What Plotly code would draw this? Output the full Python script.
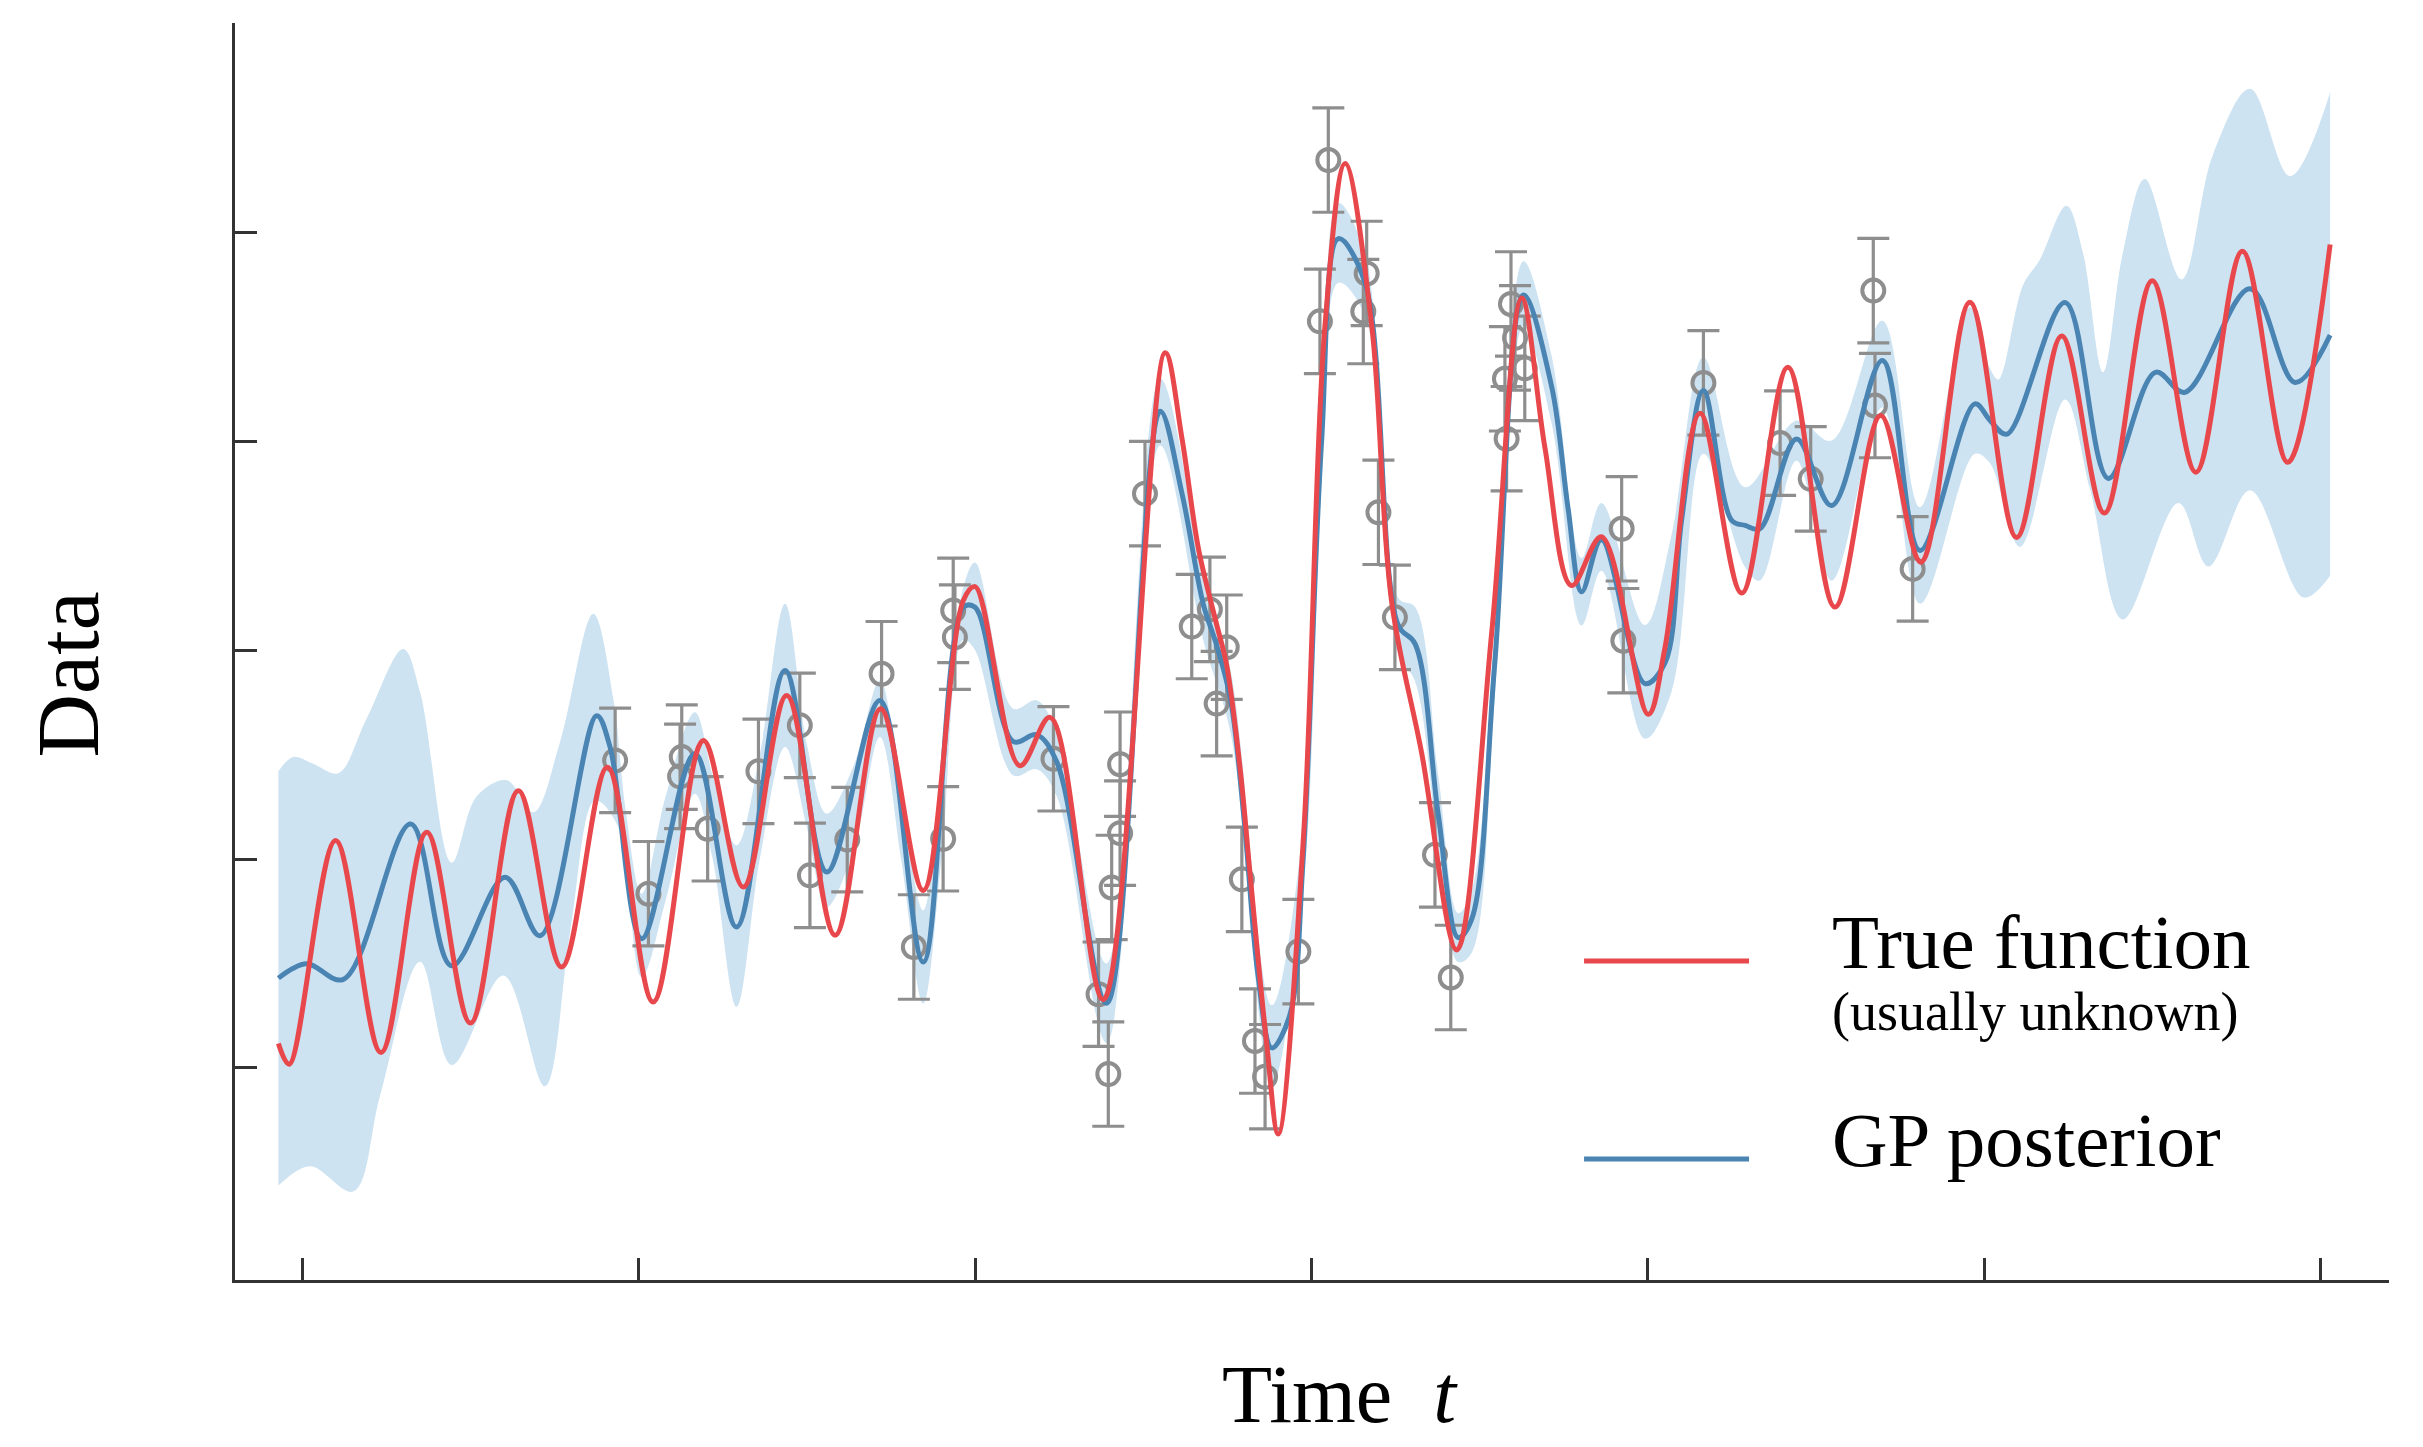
import plotly.graph_objects as go

# ---------------- data ----------------
true_t = [-0.071, -0.039, 0.099, 0.234, 0.370, 0.500, 0.642, 0.771, 0.907,
          1.043, 1.192, 1.311, 1.440, 1.584, 1.719, 1.846, 1.965,
          2.000, 2.133, 2.223, 2.381, 2.565, 2.615, 2.664, 2.718, 2.748, 2.788,
          2.817, 2.867, 2.901, 2.976, 3.040, 3.100, 3.179, 3.238, 3.328, 3.432,
          3.536, 3.625, 3.694, 3.773, 3.862, 4.001, 4.051, 4.155, 4.279, 4.416,
          4.556, 4.692, 4.812, 4.957, 5.096, 5.230, 5.357, 5.499, 5.629, 5.767,
          5.902, 6.028]
true_y = [-1.883, -1.982, -0.911, -1.926, -0.872, -1.785, -0.673, -1.517, -0.561,
          -1.684, -0.432, -1.134, -0.217, -1.365, -0.281, -1.150, 0.238,
          0.304, -0.553, -0.322, -1.673, 1.424, 1.013, 0.486, 0.123, -0.073, -0.569,
          -1.064, -1.887, -2.316, -0.899, 1.550, 2.330, 1.554, 0.235, -0.497, -1.435,
          0.089, 1.686, 0.968, 0.309, 0.543, -0.307, 0.014, 1.134, 0.273, 1.354,
          0.206, 1.123, 0.421, 1.665, 0.539, 1.504, 0.656, 1.768, 0.852, 1.909,
          0.899, 1.942]

post_t = [-0.071, 0.013, 0.122, 0.322, 0.444, 0.603, 0.707, 0.875, 0.915,
          1.009, 1.167, 1.291, 1.435, 1.559, 1.717, 1.846, 1.965,
          2.000, 2.114, 2.183, 2.243, 2.391, 2.550, 2.615, 2.678, 2.718, 2.760,
          2.801, 2.841, 2.882, 2.935, 2.975, 3.030, 3.080, 3.159, 3.258, 3.308,
          3.377, 3.436, 3.476, 3.545, 3.630, 3.714, 3.763, 3.803, 3.862, 3.991,
          4.051, 4.100, 4.165, 4.249, 4.289, 4.333, 4.442, 4.546, 4.697, 4.809,
          4.972, 5.017, 5.067, 5.240, 5.369, 5.509, 5.596, 5.790, 5.924, 6.028]
post_y = [-1.570, -1.501, -1.576, -0.832, -1.511, -1.087, -1.367, -0.314, -0.464,
          -1.381, -0.496, -1.325, -0.097, -1.062, -0.241, -1.493, 0.206,
          0.205, -0.438, -0.405, -0.536, -1.690, 1.144, 0.750, 0.222, 0.024, -0.241,
          -0.833, -1.556, -1.904, -1.750, -1.000, 1.000, 1.970, 1.759, 0.118, 0.030,
          -0.790, -1.376, -1.289, -0.057, 1.700, 1.261, 0.675, 0.279, 0.528, -0.160,
          -0.060, 0.620, 1.243, 0.621, 0.597, 0.581, 1.011, 0.692, 1.386, 0.477,
          1.179, 1.100, 1.034, 1.664, 0.822, 1.330, 1.234, 1.730, 1.281, 1.508]

band_hi_t = [-0.071, -0.027, 0.031, 0.107, 0.191, 0.300, 0.350, 0.444, 0.518,
             0.608, 0.687, 0.766, 0.865, 0.925, 0.960, 1.009, 1.080, 1.167, 1.220,
             1.291, 1.360, 1.435, 1.500, 1.559, 1.640, 1.717, 1.780, 1.846, 1.900,
             1.965, 2.000, 2.114, 2.183, 2.243, 2.391, 2.550, 2.678, 2.760, 2.882,
             2.975, 3.030, 3.080, 3.159, 3.258, 3.308, 3.377, 3.436, 3.476, 3.545,
             3.630, 3.714, 3.803, 3.862, 3.991, 4.070, 4.165, 4.289, 4.442, 4.546,
             4.697, 4.809, 4.957, 5.017, 5.042, 5.115, 5.165, 5.244, 5.293, 5.353,
             5.412, 5.477, 5.586, 5.680, 5.790, 5.909, 6.028]
band_hi_y = [-0.580, -0.511, -0.543, -0.589, -0.329, 0.006, -0.199, -1.018, -0.701,
             -0.623, -0.776, -0.441, 0.174, -0.236, -0.750, -1.166, -0.700, -0.297, -0.600,
             -0.934, -0.500, 0.222, -0.450, -0.783, -0.550, -0.145, -0.700, -1.245, -0.600,
             0.300, 0.420, -0.280, -0.240, -0.400, -1.500, 1.300, 0.380, -0.100, -1.700,
             -0.850, 1.200, 2.140, 1.900, 0.250, 0.206, -0.600, -1.259, -1.150, 0.100,
             1.862, 1.407, 0.441, 0.704, 0.120, 0.550, 1.402, 0.780, 1.099, 1.003,
             1.577, 0.684, 1.641, 1.348, 1.295, 1.747, 1.869, 2.127, 1.904, 1.330,
             1.904, 2.255, 1.774, 2.374, 2.687, 2.269, 2.669]

band_lo_t = [-0.071, 0.023, 0.152, 0.231, 0.350, 0.444, 0.598, 0.721, 0.796,
             0.870, 0.935, 1.009, 1.080, 1.167, 1.220, 1.291, 1.360, 1.435, 1.500,
             1.559, 1.640, 1.717, 1.780, 1.846, 1.900, 1.965, 2.000, 2.114, 2.183,
             2.243, 2.391, 2.550, 2.678, 2.760, 2.882, 2.975, 3.030, 3.080, 3.159,
             3.258, 3.308, 3.377, 3.436, 3.476, 3.545, 3.630, 3.714, 3.803, 3.862,
             3.991, 4.070, 4.165, 4.289, 4.333, 4.442, 4.546, 4.697, 4.809, 4.972,
             5.017, 5.106, 5.240, 5.314, 5.412, 5.577, 5.666, 5.790, 5.949, 6.028]
band_lo_y = [-2.563, -2.470, -2.591, -2.134, -1.492, -1.986, -1.557, -2.088, -1.353,
             -0.720, -0.832, -1.565, -1.200, -0.687, -1.000, -1.708, -1.000, -0.464, -0.850,
             -1.230, -0.950, -0.416, -1.000, -1.692, -1.000, 0.050, 0.000, -0.600, -0.570,
             -0.700, -1.880, 0.980, 0.050, -0.400, -2.080, -1.150, 0.800, 1.759, 1.600,
             -0.020, -0.150, -0.950, -1.493, -1.450, -0.220, 1.550, 1.085, 0.118, 0.380,
             -0.424, -0.200, 0.940, 0.397, 0.333, 0.907, 0.333, 1.163, 0.222, 0.940,
             0.895, 0.495, 1.200, 0.774, 0.147, 0.704, 0.400, 0.765, 0.252, 0.356]

obs_t = [0.930, 1.029, 1.128, 1.123, 1.205, 1.356, 1.479, 1.509, 1.620, 1.722,
         1.818, 1.905, 1.935, 1.940, 2.233, 2.431, 2.431, 2.406, 2.367, 2.396,
         2.505, 2.644, 2.698, 2.748, 2.718, 2.793, 2.832, 2.862, 2.961, 3.025,
         3.050, 3.164, 3.154, 3.199, 3.248, 3.367, 3.414, 3.593, 3.605, 3.575,
         3.634, 3.580, 3.922, 3.927, 4.165, 4.393, 4.484, 4.670, 4.675, 4.787]
obs_y = [-0.528, -1.166, -0.512, -0.604, -0.855, -0.580, -0.360, -1.078, -0.907, -0.113,
         -1.421, -0.903, 0.190, 0.062, -0.520, -0.546, -0.876, -1.136, -1.647, -2.029,
         0.749, 0.113, 0.195, 0.014, -0.256, -1.097, -1.871, -2.042, -1.443, 1.574,
         2.346, 1.803, 1.621, 0.660, 0.157, -0.980, -1.567, 1.657, 1.495, 1.299,
         1.349, 1.012, 0.581, 0.045, 1.279, 0.991, 0.820, 1.721, 1.171, 0.389]
obs_err = 0.25

x_ticks = [0, 1, 2, 3, 4, 5, 6]
y_ticks = [-2, -1, 0, 1, 2, 3]

legend_labels = ["True function", "(usually unknown)", "GP posterior"]
x_title = "Time\u00a0\u00a0<i>t</i>"
y_title = "Data"

# ---------------- styles ----------------
RED = "#e8484c"
BLUE = "#4a84b3"
BAND = "#cde3f2"
GRAY = "#8e8e8e"
AXIS = "#333333"
FONT = "Liberation Serif, Times New Roman, serif"

fig = go.Figure()

fig.add_trace(go.Scatter(x=band_hi_t, y=band_hi_y, mode="lines",
                         line=dict(width=0, shape="spline", color=BAND),
                         hoverinfo="skip", showlegend=False))
fig.add_trace(go.Scatter(x=band_lo_t, y=band_lo_y, mode="lines",
                         line=dict(width=0, shape="spline", color=BAND),
                         fill="tonexty", fillcolor=BAND,
                         hoverinfo="skip", showlegend=False))

fig.add_trace(go.Scatter(x=obs_t, y=obs_y, mode="markers",
                         marker=dict(symbol="circle-open", size=22, color=GRAY,
                                     line=dict(width=4, color=GRAY)),
                         error_y=dict(type="constant", value=obs_err, color=GRAY,
                                      thickness=3.2, width=16),
                         showlegend=False))

fig.add_trace(go.Scatter(x=post_t, y=post_y, mode="lines",
                         line=dict(width=5, shape="spline", color=BLUE),
                         showlegend=False))
fig.add_trace(go.Scatter(x=true_t, y=true_y, mode="lines",
                         line=dict(width=5, shape="spline", color=RED),
                         showlegend=False))

axis_common = dict(showgrid=False, zeroline=False, showticklabels=False,
                   ticks="inside", ticklen=22, tickwidth=3, tickcolor=AXIS,
                   showline=True, linecolor=AXIS, linewidth=3)

fig.update_xaxes(range=[-0.2, 6.203], tickvals=x_ticks, **axis_common)
fig.update_yaxes(range=[-3.015, 3.002], tickvals=y_ticks, **axis_common)

# legend (drawn manually)
fig.add_shape(type="line", xref="paper", yref="paper", x0=0.6263, x1=0.7029,
              y0=0.2538, y1=0.2538, line=dict(color=RED, width=5))
fig.add_shape(type="line", xref="paper", yref="paper", x0=0.6263, x1=0.7029,
              y0=0.0963, y1=0.0963, line=dict(color=BLUE, width=5))

ann = dict(xref="paper", yref="paper", showarrow=False, xanchor="left",
           yanchor="middle")
fig.add_annotation(x=0.7405, y=0.2689, text=legend_labels[0],
                   font=dict(family=FONT, size=77, color="black"), **ann)
fig.add_annotation(x=0.7405, y=0.2132, text=legend_labels[1],
                   font=dict(family=FONT, size=54, color="black"), **ann)
fig.add_annotation(x=0.7405, y=0.1114, text=legend_labels[2],
                   font=dict(family=FONT, size=77, color="black"), **ann)

fig.add_annotation(x=0.5132, y=-0.0907, xref="paper", yref="paper",
                   showarrow=False, xanchor="center", yanchor="middle",
                   text=x_title, font=dict(family=FONT, size=82, color="black"))
fig.add_annotation(x=-0.0771, y=0.4817, xref="paper", yref="paper",
                   showarrow=False, xanchor="center", yanchor="middle",
                   textangle=-90, text=y_title,
                   font=dict(family=FONT, size=88, color="black"))

fig.update_layout(width=2423, height=1447,
                  margin=dict(l=235, r=34, t=23, b=167, pad=0),
                  paper_bgcolor="white", plot_bgcolor="white")

fig.write_html("out.html")
